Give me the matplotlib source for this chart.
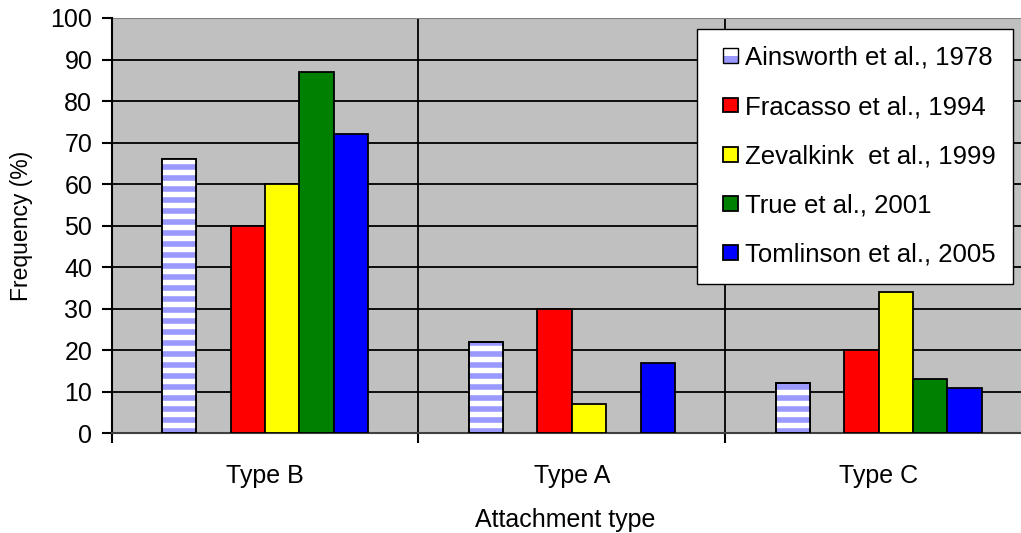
import numpy as np
import matplotlib
matplotlib.use("Agg")
import matplotlib.pyplot as plt
from matplotlib.patches import Rectangle
from matplotlib.collections import LineCollection
from matplotlib.legend_handler import HandlerBase, HandlerPatch

plt.rcParams['font.family'] = ['Liberation Sans', 'DejaVu Sans']

# ---- data -------------------------------------------------------------
categories = ["Type B", "Type A", "Type C"]
series_names = [
    "Ainsworth et al., 1978",
    "Fracasso et al., 1994",
    "Zevalkink  et al., 1999",
    "True et al., 2001",
    "Tomlinson et al., 2005",
]
ainsworth = [66, 22, 12]
fracasso = [50, 30, 20]
zevalkink = [60, 7, 34]
true_2001 = [87, np.nan, 13]
tomlinson = [72, 17, 11]
series_values = [ainsworth, fracasso, zevalkink, true_2001, tomlinson]

# ---- style ------------------------------------------------------------
LAVENDER = "#9999FF"
series_colors = [LAVENDER, "#FF0000", "#FFFF00", "#008000", "#0000FF"]
slot_of_series = [0, 2, 3, 4, 5]   # six slots per group, slot 1 left empty
n_slots = 6
bar_w = 0.112
FS = 18

W, H = 1021, 533
fig = plt.figure(figsize=(W / 100, H / 100), dpi=100)
ax = fig.add_axes([111.7 / W, 1 - 433.3 / H, 920.3 / W, 415.3 / H])
ax.set_facecolor("#C0C0C0")
ax.set_xlim(-0.5, len(categories) - 0.5)
ax.set_ylim(0, 100)

# horizontal grid + category separators
for yv in range(10, 100, 10):
    ax.axhline(yv, color="black", lw=1.3, zorder=1)
for xb in np.arange(0.5, len(categories) - 0.5, 1.0):
    ax.axvline(xb, color="black", lw=1.3, zorder=1)

x = np.arange(len(categories))
containers = []
for vals, col, slot in zip(series_values, series_colors, slot_of_series):
    vals = np.asarray(vals, dtype=float)
    ok = ~np.isnan(vals)
    offs = (slot - (n_slots - 1) / 2) * bar_w
    bc = ax.bar(x[ok] + offs, vals[ok], width=bar_w, color=col,
                edgecolor="black", linewidth=1.3, zorder=3)
    containers.append(bc)

# white horizontal stripes over the lavender bars
stripe_period = 2.65   # data units
for rect in containers[0]:
    x0, w, h = rect.get_x(), rect.get_width(), rect.get_height()
    ys = np.arange(stripe_period * 0.75, h, stripe_period)
    segs = [[(x0, yy), (x0 + w, yy)] for yy in ys]
    lc = LineCollection(segs, colors="white", linewidths=3.9, zorder=3.5)
    ax.add_collection(lc)
    lc.set_clip_path(rect)
    edge = Rectangle((x0, 0), w, h, facecolor="none", edgecolor="black",
                     linewidth=1.3, zorder=4)
    ax.add_patch(edge)

# axes styling
for s in ["right", "top"]:
    ax.spines[s].set_visible(False)
ax.axhline(100, color="#808080", lw=1.5, zorder=1)
ax.spines["left"].set_linewidth(1.5)
ax.spines["bottom"].set_linewidth(1.5)
ax.spines["bottom"].set_color("#404040")

ax.set_yticks(range(0, 101, 10))
ax.tick_params(axis="y", direction="out", length=7, width=1.5, pad=7,
               labelsize=FS)
ax.set_xticks(np.arange(-0.5, len(categories), 1.0))
ax.set_xticklabels([])
ax.tick_params(axis="x", which="major", direction="out", length=7, width=1.5)
ax.set_xticks(x, minor=True)
ax.set_xticklabels(categories, minor=True)
ax.tick_params(axis="x", which="minor", length=0, pad=22, labelsize=FS)

ax.set_ylabel("Frequency (%)", fontsize=16.5)
ax.yaxis.set_label_coords(-0.085, 0.5)
ax.set_xlabel("Attachment type", fontsize=FS)
ax.xaxis.set_label_coords(0.4926, -0.18)


class HalfFillHandler(HandlerBase):
    def create_artists(self, legend, orig_handle, xdescent, ydescent,
                       width, height, fontsize, trans):
        x0, y0 = -xdescent, -ydescent
        top = Rectangle((x0, y0 + height / 2), width, height / 2,
                        facecolor="white", edgecolor="none", transform=trans)
        bot = Rectangle((x0, y0), width, height / 2,
                        facecolor=LAVENDER, edgecolor="none", transform=trans)
        frame = Rectangle((x0, y0), width, height, facecolor="none",
                          edgecolor="black", linewidth=1.0, transform=trans)
        return [top, bot, frame]


legend_fs = 18.5
xpad = 0.38
handles = [c.patches[0] for c in containers]
hmap = {handles[0]: HalfFillHandler(xpad=xpad)}
for hd in handles[1:]:
    hmap[hd] = HandlerPatch(xpad=xpad)
leg = ax.legend(handles, series_names, loc="upper left",
                bbox_to_anchor=(697 / W, 1 - 29 / H),
                bbox_transform=fig.transFigure, borderaxespad=0,
                fontsize=legend_fs, handlelength=0.58 + xpad,
                handleheight=0.5, handletextpad=0.27, labelspacing=0.985,
                borderpad=0.65, fancybox=False, framealpha=1,
                edgecolor="black", handler_map=hmap)
leg.get_frame().set_linewidth(1.0)
leg.set_zorder(10)

fig.savefig("out.png", dpi=100)
